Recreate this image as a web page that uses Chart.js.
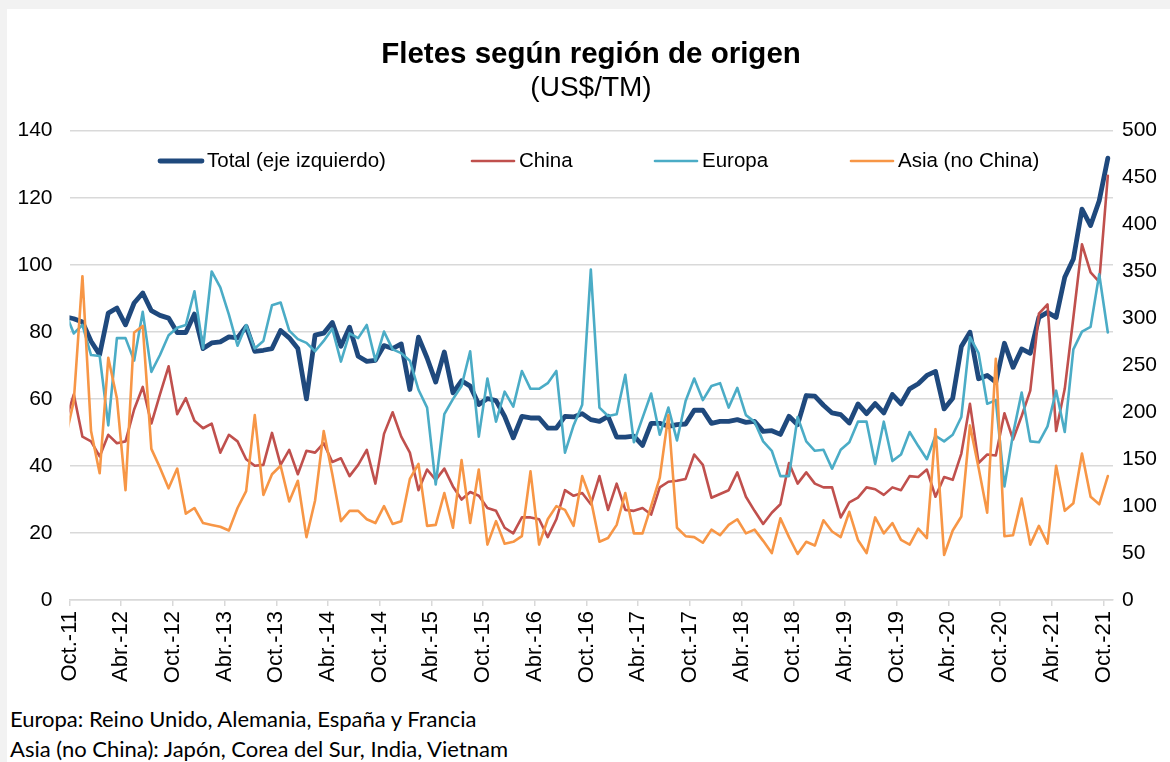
<!DOCTYPE html>
<html lang="es">
<head>
<meta charset="utf-8">
<title>Fletes según región de origen</title>
<script src="https://cdn.jsdelivr.net/npm/chart.js@4.4.1/dist/chart.umd.min.js"></script>
<style>
    html, body { margin: 0; padding: 0; }
    body { width: 1170px; height: 762px; background: #f2f2f2; position: relative; overflow: hidden; }
    #panel { position: absolute; left: 7px; top: 9px; right: 0; bottom: 0; background: #fff; }
    #chart { position: absolute; left: 0; top: 0; }
    .note { position: absolute; left: 10px; font-family: Lato, 'Open Sans', sans-serif; font-size: 22px; line-height: 24px; color: #000; white-space: nowrap; }
</style>
</head>
<body>
<div id="panel"></div>
<canvas id="chart" width="1170" height="700"></canvas>
<div class="note" style="top:707px">Europa: Reino Unido, Alemania, España y Francia</div>
<div class="note" style="top:737px">Asia (no China): Japón, Corea del Sur, India, Vietnam</div>
<script>
// Axis labels, one every six months
const tickLabels = ['Oct.-11', 'Abr.-12', 'Oct.-12', 'Abr.-13', 'Oct.-13', 'Abr.-14', 'Oct.-14',
    'Abr.-15', 'Oct.-15', 'Abr.-16', 'Oct.-16', 'Abr.-17', 'Oct.-17', 'Abr.-18', 'Oct.-18',
    'Abr.-19', 'Oct.-19', 'Abr.-20', 'Oct.-20', 'Abr.-21', 'Oct.-21'];

// Monthly series, Sep.-11 to Oct.-21
const monthNames = ['Ene.', 'Feb.', 'Mar.', 'Abr.', 'May.', 'Jun.', 'Jul.', 'Ago.', 'Sep.', 'Oct.', 'Nov.', 'Dic.'];

// Total, US$/TM (left axis)
const total = [
    84.5, 83.9, 82.9, 77.2, 73.2, 85.6, 87.1, 82.1, 88.6, 91.6,
    86.3, 84.9, 84.1, 79.8, 79.8, 85.3, 75.0, 76.7, 77.0, 78.5,
    78.2, 81.6, 74.2, 74.5, 75.0, 80.4, 78.2, 75.0, 60.0, 79.0,
    79.6, 82.8, 75.7, 81.4, 72.7, 71.2, 71.5, 75.9, 75.0, 76.4,
    62.8, 78.4, 72.2, 65.0, 74.0, 61.8, 65.4, 63.8, 58.3, 60.1,
    59.5, 54.8, 48.4, 54.8, 54.3, 54.3, 51.3, 51.3, 54.8, 54.6,
    55.6, 53.8, 53.3, 54.8, 48.6, 48.6, 48.9, 46.1, 52.7, 52.7,
    51.8, 52.3, 52.5, 56.6, 56.6, 52.7, 53.3, 53.3, 53.8, 53.0,
    53.3, 50.3, 50.5, 49.4, 54.8, 52.3, 61.0, 60.8, 58.1, 55.8,
    55.3, 52.8, 58.5, 55.6, 58.6, 55.8, 61.3, 58.5, 63.0, 64.5,
    67.0, 68.2, 57.0, 60.2, 75.6, 79.9, 66.0, 67.0, 65.0, 76.6,
    69.4, 74.9, 73.6, 84.3, 85.8, 84.3, 96.3, 101.7, 116.6, 111.7,
    119.1, 131.8
];

// China, Europa, Asia (no China), US$/TM (right axis)
const china = [
    189, 219, 174, 169, 153, 176, 167, 169, 203, 227,
    188, 219, 249, 198, 215, 191, 183, 188, 157, 176,
    169, 150, 143, 144, 178, 144, 160, 134, 159, 157,
    167, 147, 151, 132, 144, 160, 124, 177, 200, 174,
    157, 117, 139, 128, 140, 121, 107, 115, 111, 98,
    95, 77, 71, 88, 88, 86, 67, 86, 117, 111,
    114, 102, 132, 96, 124, 96, 95, 98, 91, 120,
    126, 127, 129, 155, 144, 109, 113, 117, 136, 110,
    95, 81, 93, 102, 146, 124, 136, 124, 120, 120,
    88, 104, 109, 120, 118, 112, 120, 117, 132, 131,
    139, 110, 131, 128, 156, 209, 146, 155, 154, 199,
    171, 196, 223, 305, 315, 180, 225, 301, 379, 349,
    339, 452
];

const europa = [
    307, 284, 293, 261, 260, 186, 279, 279, 255, 307,
    243, 261, 282, 290, 293, 329, 268, 350, 333, 304,
    271, 293, 268, 276, 314, 317, 287, 278, 274, 265,
    276, 289, 254, 284, 279, 293, 255, 286, 267, 263,
    255, 224, 205, 123, 198, 214, 228, 265, 174, 236,
    190, 222, 206, 244, 225, 225, 231, 244, 157, 186,
    208, 352, 205, 196, 198, 240, 168, 194, 220, 176,
    205, 170, 212, 236, 213, 228, 231, 205, 226, 197,
    190, 169, 159, 132, 132, 195, 169, 159, 160, 140,
    160, 168, 190, 190, 145, 190, 148, 155, 179, 164,
    150, 175, 169, 176, 195, 280, 263, 209, 213, 121,
    177, 221, 169, 168, 185, 223, 179, 267, 286, 291,
    347, 285
];

const asia = [
    171, 212, 345, 180, 135, 258, 215, 117, 285, 292,
    161, 141, 119, 140, 92, 98, 82, 80, 78, 74,
    98, 116, 197, 112, 134, 143, 105, 127, 67, 106,
    180, 134, 84, 95, 95, 86, 82, 100, 81, 84,
    129, 145, 79, 80, 114, 77, 149, 82, 139, 59,
    84, 60, 62, 68, 137, 59, 86, 100, 96, 79,
    132, 107, 62, 66, 80, 114, 71, 71, 100, 130,
    197, 77, 68, 67, 61, 75, 69, 80, 86, 71,
    75, 63, 50, 87, 67, 49, 62, 58, 85, 73,
    67, 94, 64, 50, 88, 71, 82, 64, 59, 76,
    66, 182, 48, 74, 89, 186, 141, 93, 257, 68,
    69, 108, 59, 79, 60, 143, 95, 103, 156, 110,
    102, 132
];

// Build month labels starting at Sep.-11
const months = total.map((_, i) => monthNames[(8 + i) % 12] + '-' + (11 + Math.floor((8 + i) / 12)));

// Points sit mid-month; x counts months from Oct.-11
function toPoints(values) {
    return values.map((v, i) => ({ x: i - 0.5, y: v, month: months[i] }));
}

// Legend drawn inside the plot, like the original
const insideLegend = {
    id: 'insideLegend',
    afterDraw(chart, args, opts) {
        const ctx = chart.ctx;
        ctx.save();
        ctx.font = opts.font;
        ctx.textBaseline = 'middle';
        ctx.fillStyle = '#000';
        ctx.lineCap = 'round';
        chart.data.datasets.forEach((ds, i) => {
            const x = opts.positions[i];
            ctx.strokeStyle = ds.borderColor;
            ctx.lineWidth = ds.borderWidth;
            ctx.beginPath();
            ctx.moveTo(x, opts.y);
            ctx.lineTo(x + opts.lineLength, opts.y);
            ctx.stroke();
            ctx.fillText(ds.label, x + opts.lineLength + opts.gap, opts.y);
        });
        ctx.restore();
    }
};

const axisFont = { family: "'Liberation Sans', Arial, sans-serif", size: 21 };

new Chart(document.getElementById('chart'), {
    type: 'line',
    data: {
        datasets: [
            { label: 'Total (eje izquierdo)', data: toPoints(total), yAxisID: 'y', borderColor: '#1f497d', borderWidth: 4.8, order: 3 },
            { label: 'China', data: toPoints(china), yAxisID: 'y2', borderColor: '#c0504d', borderWidth: 2.6, order: 2 },
            { label: 'Europa', data: toPoints(europa), yAxisID: 'y2', borderColor: '#4bacc6', borderWidth: 2.6, order: 1 },
            { label: 'Asia (no China)', data: toPoints(asia), yAxisID: 'y2', borderColor: '#f79646', borderWidth: 2.6, order: 0 }
        ]
    },
    options: {
        responsive: false,
        animation: false,
        devicePixelRatio: 1,
        events: [],
        datasets: {
            line: { pointRadius: 0, tension: 0, borderJoinStyle: 'round', borderCapStyle: 'round', clip: 0, fill: false }
        },
        layout: { padding: { left: 12, right: 0, top: 37, bottom: 0 } },
        plugins: {
            legend: { display: false },
            tooltip: { enabled: false },
            title: {
                display: true,
                text: 'Fletes según región de origen',
                color: '#000',
                font: { family: "'Liberation Sans', Arial, sans-serif", size: 29.5, weight: 'bold', lineHeight: 1.2 },
                padding: { top: 0, bottom: 0 }
            },
            subtitle: {
                display: true,
                text: '(US$/TM)',
                color: '#000',
                font: { family: "'Liberation Sans', Arial, sans-serif", size: 28, lineHeight: 1.1 },
                padding: { top: 0, bottom: 27.5 }
            },
            insideLegend: {
                font: "20.5px 'Liberation Sans', Arial, sans-serif",
                positions: [160, 472, 655, 851],
                y: 161,
                lineLength: 42,
                gap: 5
            }
        },
        scales: {
            x: {
                type: 'linear',
                min: 0,
                max: 121.1,
                afterBuildTicks: axis => {
                    axis.ticks = tickLabels.map((_, i) => ({ value: i * 6 }));
                },
                afterFit: scale => { scale.height = 100; },
                ticks: {
                    autoSkip: false,
                    minRotation: 90,
                    maxRotation: 90,
                    padding: 5,
                    color: '#000',
                    font: { family: "'Liberation Sans', Arial, sans-serif", size: 22 },
                    callback: (value, index) => tickLabels[index]
                },
                grid: { drawOnChartArea: false, drawTicks: true, tickLength: 6, color: '#d9d9d9', lineWidth: 1.5 },
                border: { display: true, color: '#d9d9d9', width: 1.5 }
            },
            y: {
                position: 'left',
                min: 0,
                max: 140,
                afterFit: scale => { scale.width = 57.5; },
                ticks: { stepSize: 20, padding: 17, color: '#000', font: axisFont },
                grid: { color: '#d9d9d9', lineWidth: 1.5, drawTicks: false },
                border: { display: false }
            },
            y2: {
                position: 'right',
                min: 0,
                max: 500,
                afterFit: scale => { scale.width = 57; },
                ticks: { stepSize: 50, padding: 9, color: '#000', font: axisFont },
                grid: { drawOnChartArea: false, drawTicks: false },
                border: { display: false }
            }
        }
    },
    plugins: [insideLegend]
});
</script>
</body>
</html>
